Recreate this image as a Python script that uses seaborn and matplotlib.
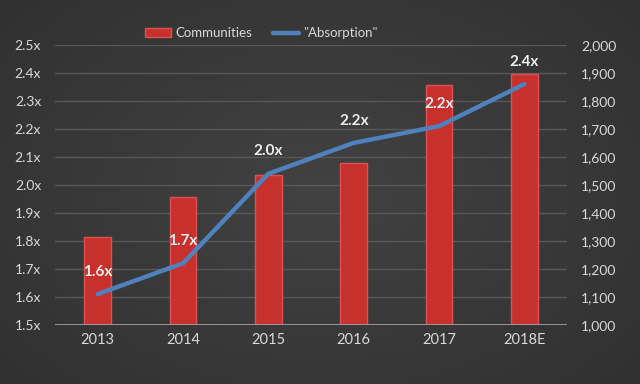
import numpy as np
import pandas as pd
import matplotlib
matplotlib.use("Agg")
import matplotlib.pyplot as plt
import seaborn as sns
from matplotlib.patches import Patch
from matplotlib.lines import Line2D

# Data
years = ["2013", "2014", "2015", "2016", "2017", "2018E"]
communities = [1315, 1455, 1535, 1580, 1857, 1895]
absorption = [1.61, 1.72, 2.04, 2.15, 2.21, 2.36]
absorption_labels = ["1.6x", "1.7x", "2.0x", "2.2x", "2.2x", "2.4x"]

df = pd.DataFrame({"year": years, "communities": communities,
                   "absorption": absorption, "pos": range(len(years))})

sns.set_theme(style="dark")
plt.rcParams["font.family"] = ["Lato", "DejaVu Sans"]

text_col = "#d9d9d9"
fig = plt.figure(figsize=(6.4, 3.84), dpi=100)

# dark vignette background
bg = fig.add_axes([0, 0, 1, 1], zorder=-10)
yy, xx = np.mgrid[-1:1:200j, -1:1:300j]
r = np.sqrt(xx ** 2 + (yy * 0.9) ** 2)
bg.imshow(-r, cmap=sns.dark_palette("#424242", as_cmap=True), aspect="auto",
          extent=[0, 1, 0, 1], vmin=-2.2, vmax=0)
bg.axis("off")

ax = fig.add_axes([0.086, 0.154, 0.80, 0.729])
ax.set_facecolor("none")
sns.barplot(data=df, x="year", y="communities", color="#c8302e", width=0.31,
            saturation=1, edgecolor="#d9544f", linewidth=1, ax=ax, zorder=2)
ax.set_ylim(1000, 2000)
ax.set_yticks(range(1000, 2001, 100))
ax.set_yticklabels([f"{v:,}" for v in range(1000, 2001, 100)])
ax.grid(axis="y", color="#585858", linewidth=1, zorder=0)
ax.set_axisbelow(True)

ax2 = ax.twinx()
sns.lineplot(data=df, x="pos", y="absorption", color="#4f81bd", linewidth=3.2,
             ax=ax2, zorder=5)
ax2.set_ylim(1.5, 2.5)
ax2.set_yticks(np.round(np.arange(1.5, 2.51, 0.1), 1))
ax2.set_yticklabels([f"{v:.1f}x" for v in np.arange(1.5, 2.51, 0.1)])
ax2.grid(False)
for i, lab in enumerate(absorption_labels):
    ax2.annotate(lab, (i, absorption[i]), xytext=(0, 16), textcoords="offset points",
                 ha="center", va="center", fontsize=11, fontweight="bold", color="#eeeeee")

for a in (ax, ax2):
    a.set_xlabel("")
    a.set_ylabel("")
    for s in a.spines.values():
        s.set_visible(False)
    a.tick_params(colors=text_col, labelsize=10, length=0, pad=10)
ax.axhline(1000, color="#a6a6a6", linewidth=1.2, zorder=3)
ax.set_xlim(-0.5, len(years) - 0.5)
ax.tick_params(axis="x", pad=6, labelsize=10.5)

# bars axis on the right, ratio axis on the left
ax.yaxis.tick_right()
ax2.yaxis.tick_left()

handles = [Patch(facecolor="#c8302e", edgecolor="#d9544f"),
           Line2D([0], [0], color="#4f81bd", linewidth=3.2)]
fig.legend(handles, ["Communities", '"Absorption"'], loc="center", ncol=2,
           bbox_to_anchor=(0.408, 0.914), frameon=False, fontsize=9.5,
           labelcolor=text_col, handlelength=2.0, handleheight=0.6, columnspacing=1.6,
           handletextpad=0.3)

fig.savefig("out.png", dpi=100)
